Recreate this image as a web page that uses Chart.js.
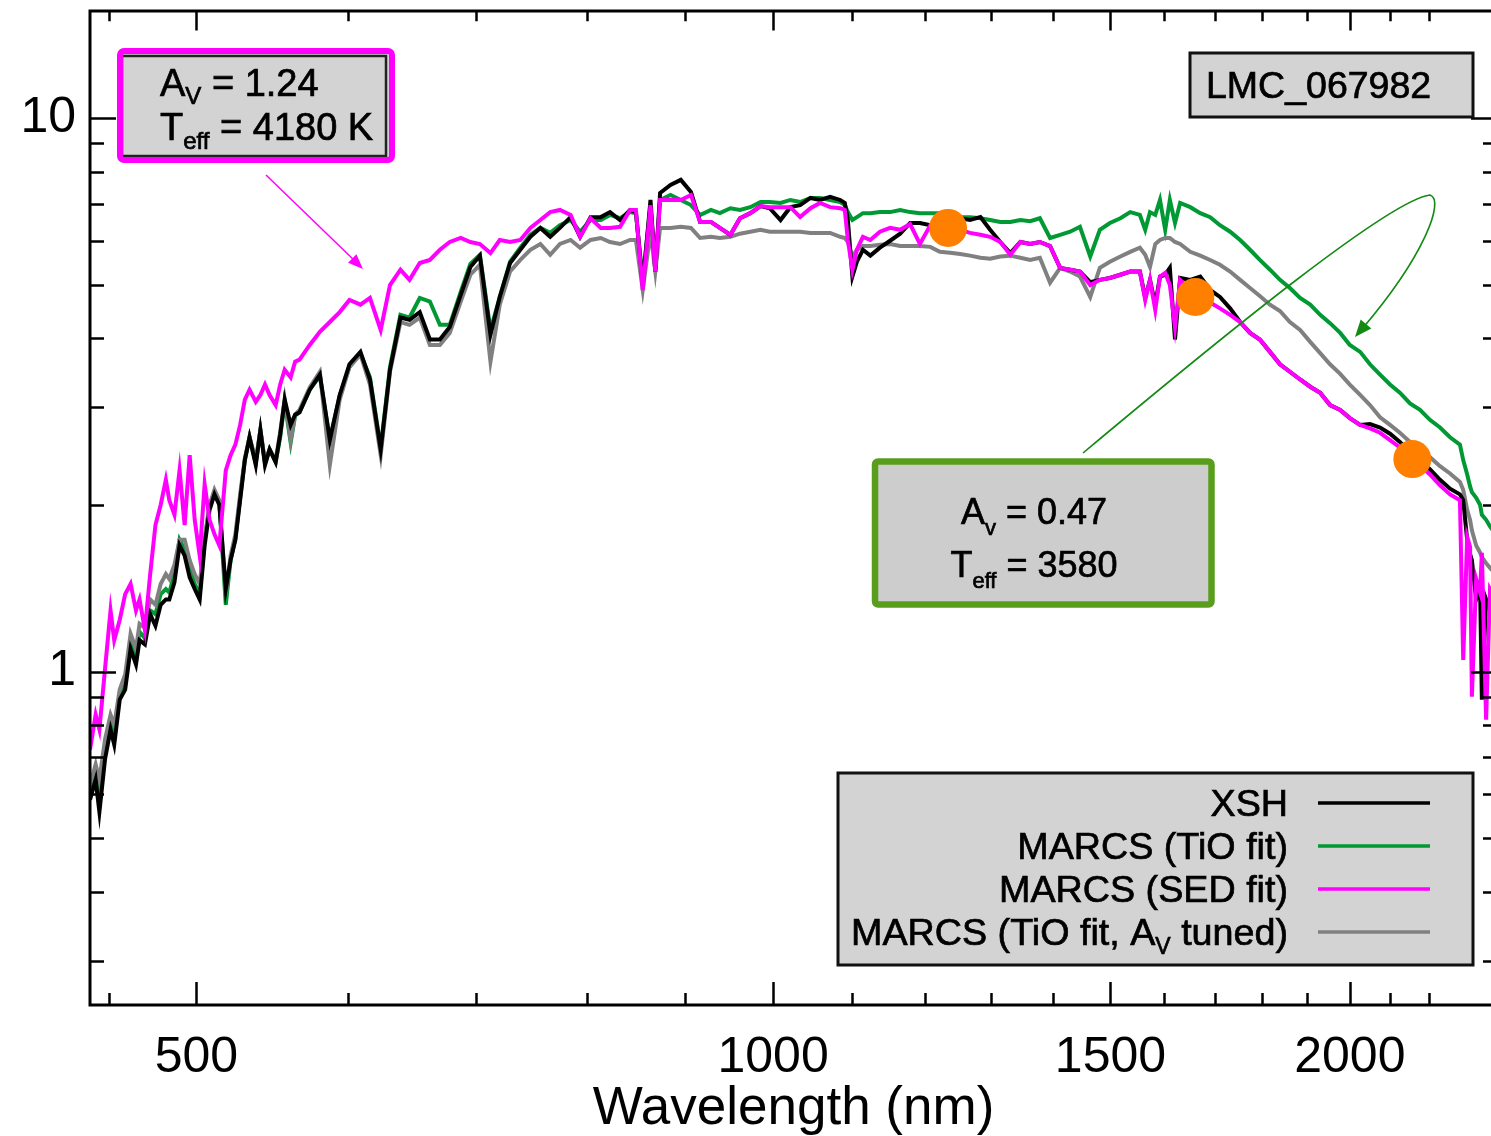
<!DOCTYPE html>
<html>
<head>
<meta charset="utf-8">
<script src="https://cdn.jsdelivr.net/npm/chart.js@4.4.0/dist/chart.umd.min.js"></script>
<style>
  html, body { margin: 0; padding: 0; background: #fff; overflow: hidden; }
  #wrap { width: 1491px; height: 1136px; overflow: hidden; }
</style>
</head>
<body>
<div id="wrap"><canvas id="spectrum" width="1500" height="1136"></canvas></div>
<script>
// wavelength grid (nm), shared by the four spectra
const wavelength = [
  440, 443, 445, 448, 451, 453, 456, 459, 462, 465, 467, 470, 473, 476, 479, 482, 484, 487, 490, 493, 496, 499,
  502, 505, 508, 511, 514, 518, 521, 524, 527, 530, 533, 537, 540, 543, 546, 550, 553, 556, 560, 563, 566,
  573, 580, 587, 594, 601, 609, 616, 624, 631, 639, 646, 654, 662, 670, 678, 687, 695, 703, 712, 720, 729,
  738, 747, 756, 765, 774, 784, 793, 803, 813, 822, 832, 842,
  848, 855, 863, 868, 873, 884,
  895, 906, 916, 928, 938, 950, 961, 973, 985, 996, 1009, 1021, 1033, 1046, 1058, 1071, 1084,
  1090, 1094, 1100, 1106, 1114, 1124,
  1137, 1151, 1165, 1179, 1193, 1208, 1222, 1237, 1252, 1267, 1283, 1298, 1314, 1330, 1346, 1362, 1378, 1395,
  1412, 1429, 1446, 1464, 1481, 1499, 1518, 1536, 1554,
  1564, 1573, 1583, 1592, 1602, 1611, 1621, 1631,
  1651, 1671, 1691, 1711, 1732, 1753, 1774, 1795, 1817, 1839, 1861, 1884, 1907, 1930, 1953, 1977, 2000, 2025,
  2049, 2074, 2099, 2124, 2150, 2176, 2202, 2229, 2256, 2283,
  2292, 2303, 2311, 2316, 2328, 2339, 2344, 2356, 2367, 2384
];

const xsh = [
  0.587, 0.638, 0.558, 0.694, 0.786, 0.738, 0.890, 0.928, 1.10, 1.03, 1.14, 1.12, 1.27, 1.21, 1.32, 1.35, 1.35, 1.45, 1.69, 1.62, 1.48, 1.41,
  1.35, 1.69, 1.96, 2.09, 2.00, 1.41, 1.59, 1.73, 2.04, 2.41, 2.65, 2.36, 2.73, 2.36, 2.52, 2.39, 2.68, 3.10, 2.79, 2.91, 2.94,
  3.23, 3.44, 2.62, 3.16, 3.59, 3.78, 3.37, 2.52, 3.51, 4.36, 4.32, 4.46, 3.98, 3.98, 4.19, 4.79, 5.38, 5.64, 4.06, 4.75, 5.47, 5.78,
  6.10, 6.33, 6.10, 6.33, 6.62, 6.10, 6.62, 6.62, 6.76, 6.54, 6.82,
  6.76, 4.99, 7.11, 5.28, 7.32, 7.57,
  7.73, 7.35, 6.49, 6.49, 6.33, 6.15, 6.59, 6.73, 6.93, 6.87, 6.54, 6.90, 6.96, 7.17, 7.11, 7.20, 7.11,
  7.02, 6.54, 5.17, 5.50, 5.78, 5.64,
  5.83, 6.00, 6.18, 6.46, 6.46, 6.40, 6.49, 6.49, 6.59, 6.54, 6.62, 6.28, 5.97, 5.70, 5.97, 5.92, 5.97, 5.87,
  5.36, 5.32, 5.28, 5.05, 5.10, 5.14, 5.21, 5.28, 5.28,
  4.73, 5.10, 4.60, 5.17, 5.21, 5.36, 3.98, 5.14,
  5.10, 5.17, 4.89, 4.75, 4.53, 4.28, 4.09, 3.98, 3.78, 3.59, 3.48, 3.37, 3.27, 3.19, 3.03, 2.97, 2.87, 2.79,
  2.80, 2.76, 2.69, 2.60, 2.49, 2.41, 2.32, 2.22, 2.14, 2.09,
  2.04, 1.73, 1.63, 1.59, 1.35, 1.41, 0.890, 1.35, 1.29, 1.24
];

const tioFit = [
  0.612, 0.652, 0.587, 0.708, 0.812, 0.770, 0.909, 0.955, 1.12, 1.06, 1.18, 1.15, 1.29, 1.27, 1.38, 1.41, 1.39, 1.50, 1.73, 1.66, 1.53, 1.44,
  1.38, 1.73, 2.00, 2.11, 2.02, 1.32, 1.59, 1.74, 2.06, 2.41, 2.65, 2.38, 2.73, 2.38, 2.52, 2.39, 2.65, 3.07, 2.59, 2.90, 2.94,
  3.23, 3.42, 2.62, 3.15, 3.55, 3.75, 3.40, 2.54, 3.55, 4.41, 4.36, 4.73, 4.66, 4.23, 4.23, 4.85, 5.45, 5.66, 4.14, 4.75, 5.50, 5.83,
  6.15, 6.33, 6.20, 6.40, 6.54, 6.23, 6.54, 6.54, 6.68, 6.59, 6.76,
  6.73, 5.10, 6.96, 5.36, 7.11, 7.26,
  7.11, 6.96, 6.68, 6.82, 6.73, 6.87, 6.82, 6.90, 7.05, 7.05, 7.02, 7.11, 7.05, 7.17, 7.17, 7.11, 7.05,
  6.96, 6.76, 6.54, 6.62, 6.73, 6.73,
  6.76, 6.76, 6.82, 6.76, 6.73, 6.73, 6.73, 6.68, 6.62, 6.62, 6.59, 6.54, 6.49, 6.49, 6.54, 6.51, 6.59, 6.07,
  6.15, 6.23, 6.36, 5.62, 6.28, 6.46, 6.59, 6.76, 6.68,
  6.28, 6.76, 6.68, 7.11, 6.28, 7.11, 6.46, 7.02,
  6.90, 6.73, 6.62, 6.40, 6.23, 6.02, 5.78, 5.54, 5.32, 5.10, 4.93, 4.73, 4.60, 4.41, 4.26, 4.09, 3.89, 3.78,
  3.59, 3.44, 3.30, 3.19, 3.05, 2.97, 2.85, 2.76, 2.65, 2.57,
  2.41, 2.27, 2.16, 2.11, 2.06, 2.00, 1.92, 1.88, 1.83, 1.77
];

const sedFit = [
  0.723, 0.836, 0.786, 1.01, 1.29, 1.14, 1.24, 1.38, 1.44, 1.29, 1.35, 1.19, 1.50, 1.84, 2.00, 2.22, 2.04, 1.92, 2.31, 1.84, 2.46, 1.88,
  1.62, 2.18, 1.88, 1.77, 1.69, 2.31, 2.46, 2.57, 2.79, 3.10, 3.23, 3.07, 3.16, 3.30, 3.16, 3.03, 3.30, 3.51, 3.40, 3.63, 3.66,
  3.89, 4.11, 4.28, 4.46, 4.69, 4.60, 4.73, 4.14, 4.99, 5.32, 5.10, 5.47, 5.54, 5.78, 5.97, 6.07, 5.97, 5.92, 5.70, 6.02, 5.97, 6.02,
  6.33, 6.54, 6.76, 6.82, 6.68, 6.10, 6.59, 6.33, 6.33, 6.36, 6.82,
  6.82, 4.89, 6.96, 5.28, 7.11, 7.11,
  7.11, 7.26, 6.49, 6.49, 6.33, 6.15, 6.59, 6.73, 6.93, 6.90, 6.90, 6.90, 6.62, 6.87, 7.02, 6.90, 6.87,
  6.82, 6.02, 5.32, 5.78, 6.10, 6.02,
  6.23, 6.33, 6.28, 6.43, 5.92, 6.40, 6.33, 6.28, 6.28, 6.20, 6.15, 6.10, 5.97, 5.66, 5.97, 5.92, 5.97, 5.87,
  5.36, 5.32, 5.28, 4.99, 5.10, 5.14, 5.21, 5.28, 5.28,
  4.69, 5.10, 4.50, 5.17, 5.25, 4.99, 4.19, 5.10,
  4.89, 4.73, 4.64, 4.53, 4.41, 4.28, 4.09, 3.98, 3.78, 3.59, 3.48, 3.37, 3.27, 3.19, 3.03, 2.97, 2.87, 2.79,
  2.75, 2.70, 2.62, 2.54, 2.44, 2.36, 2.27, 2.17, 2.09, 2.04,
  1.05, 1.75, 1.68, 0.901, 1.47, 1.39, 1.64, 0.819, 1.41, 1.35
];

const tioTuned = [
  0.625, 0.680, 0.638, 0.754, 0.836, 0.802, 0.928, 0.988, 1.17, 1.10, 1.22, 1.20, 1.35, 1.32, 1.44, 1.50, 1.47, 1.56, 1.73, 1.73, 1.59, 1.50,
  1.44, 1.73, 2.00, 2.13, 2.04, 1.38, 1.62, 1.77, 2.09, 2.43, 2.65, 2.41, 2.73, 2.39, 2.52, 2.41, 2.71, 3.10, 2.62, 2.91, 2.97,
  3.26, 3.48, 2.36, 3.10, 3.55, 3.74, 3.30, 2.46, 3.48, 4.28, 4.23, 4.36, 3.89, 3.89, 4.09, 4.66, 5.21, 5.43, 3.63, 4.60, 5.28, 5.54,
  5.78, 5.92, 5.66, 5.92, 6.02, 5.83, 6.02, 6.07, 5.97, 5.92, 6.02,
  6.02, 4.89, 6.23, 5.28, 6.33, 6.33,
  6.36, 6.33, 6.07, 6.10, 6.07, 6.10, 6.18, 6.23, 6.28, 6.23, 6.23, 6.23, 6.23, 6.20, 6.20, 6.20, 6.10,
  6.07, 5.97, 5.62, 5.78, 5.87, 5.87,
  5.90, 5.92, 5.87, 5.87, 5.87, 5.85, 5.73, 5.71, 5.68, 5.64, 5.59, 5.57, 5.62, 5.64, 5.59, 5.54, 5.59, 5.04,
  5.36, 5.28, 5.17, 4.75, 5.36, 5.50, 5.62, 5.73, 5.83,
  5.66, 5.38, 5.92, 6.02, 6.07, 6.07, 5.97, 5.92,
  5.73, 5.64, 5.54, 5.43, 5.28, 5.10, 4.93, 4.77, 4.60, 4.48, 4.28, 4.14, 3.94, 3.76, 3.59, 3.45, 3.30, 3.16,
  3.03, 2.88, 2.79, 2.70, 2.60, 2.52, 2.44, 2.35, 2.28, 2.20,
  2.13, 1.96, 1.88, 1.80, 1.69, 1.64, 1.61, 1.57, 1.54, 1.50
];

// J, H, K photometry (orange dots)
const photWave = [1234, 1661, 2156];
const photFlux = [6.33, 4.75, 2.42];

const seriesNames = ['XSH', 'MARCS (TiO fit)', 'MARCS (SED fit)', 'MARCS (TiO fit, A_{V} tuned)'];
const seriesColors = ['#000000', '#009933', '#ff00ff', '#808080'];

const xTicks = [450, 500, 600, 700, 800, 900, 1000, 1100, 1200, 1300, 1400, 1500, 1600, 1700, 1800, 1900, 2000, 2100, 2200];
const xLabels = [500, 1000, 1500, 2000];
const yTicks = [0.3, 0.4, 0.5, 0.6, 0.7, 0.8, 0.9, 1, 2, 3, 4, 5, 6, 7, 8, 9, 10];
const yLabels = [1, 10];

const FAMILY = '"Liberation Sans", Arial, Helvetica, sans-serif';
function fontAt(size) { return size + 'px ' + FAMILY; }

function toPoints(ys) {
    return wavelength.map((w, i) => ({ x: w, y: ys[i] }));
}

// "A_{V}" style markup -> [[text, isSub], ...]
function richParts(str) {
    const parts = [];
    const re = /_\{([^}]*)\}/g;
    let last = 0, m;
    while ((m = re.exec(str)) !== null) {
        if (m.index > last) parts.push([str.slice(last, m.index), false]);
        parts.push([m[1], true]);
        last = re.lastIndex;
    }
    if (last < str.length) parts.push([str.slice(last), false]);
    return parts;
}

function drawRich(ctx, str, x, y, align, size, subDrop) {
    const parts = richParts(str);
    const subSize = Math.round(size * 0.62);
    const widthOf = p => { ctx.font = fontAt(p[1] ? subSize : size); return ctx.measureText(p[0]).width; };
    const total = parts.reduce((s, p) => s + widthOf(p), 0);
    let cx = align === 'right' ? x - total : align === 'center' ? x - total / 2 : x;
    ctx.textAlign = 'left';
    ctx.textBaseline = 'alphabetic';
    ctx.lineWidth = 0.7;
    ctx.strokeStyle = ctx.fillStyle;
    parts.forEach(p => {
        const w = widthOf(p);
        const ty = p[1] ? y + subDrop : y;
        ctx.fillText(p[0], cx, ty);
        ctx.strokeText(p[0], cx, ty);
        cx += w;
    });
}

function arrowHead(ctx, x, y, angle, len, half) {
    const c = Math.cos(angle), s = Math.sin(angle);
    ctx.beginPath();
    ctx.moveTo(x, y);
    ctx.lineTo(x - len * c + half * s, y - len * s - half * c);
    ctx.lineTo(x - len * c - half * s, y - len * s + half * c);
    ctx.closePath();
    ctx.fill();
}

const frameTicks = {
    id: 'frameTicks',
    afterDatasetsDraw(chart) {
        const { ctx, chartArea: a, scales: { x, y } } = chart;
        ctx.save();
        ctx.strokeStyle = '#000';
        ctx.lineWidth = 2.5;
        ctx.beginPath();
        xTicks.forEach(v => {
            const px = Math.round(x.getPixelForValue(v)) + 0.5;
            const len = xLabels.includes(v) ? 23 : 12;
            ctx.moveTo(px, a.bottom); ctx.lineTo(px, a.bottom - len);
            ctx.moveTo(px, a.top); ctx.lineTo(px, a.top + len * 0.85);
        });
        yTicks.forEach(v => {
            const py = Math.round(y.getPixelForValue(v)) + 0.5;
            const len = yLabels.includes(v) ? 26 : 14;
            ctx.moveTo(a.left, py); ctx.lineTo(a.left + len, py);
            ctx.moveTo(a.right, py); ctx.lineTo(a.right - len, py);
        });
        ctx.stroke();
        ctx.lineWidth = 3;
        ctx.strokeRect(a.left, a.top, a.right - a.left, a.bottom - a.top);
        ctx.restore();
    }
};

const notes = {
    id: 'notes',
    afterDraw(chart) {
        const ctx = chart.ctx;
        ctx.save();

        // legend
        ctx.fillStyle = '#d3d3d3';
        ctx.fillRect(838, 773, 635, 192);
        ctx.strokeStyle = '#111';
        ctx.lineWidth = 3;
        ctx.strokeRect(838, 773, 635, 192);
        seriesNames.forEach((name, i) => {
            const yMid = 803 + i * 43;
            ctx.fillStyle = '#000';
            drawRich(ctx, name, 1288, yMid + 13, 'right', 37.7, 9);
            ctx.strokeStyle = seriesColors[i];
            ctx.lineWidth = 3.5;
            ctx.beginPath();
            ctx.moveTo(1318, yMid); ctx.lineTo(1430, yMid);
            ctx.stroke();
        });

        // star name
        ctx.fillStyle = '#d3d3d3';
        ctx.fillRect(1190, 53, 283, 64);
        ctx.strokeStyle = '#111';
        ctx.lineWidth = 3;
        ctx.strokeRect(1190, 53, 283, 64);
        ctx.fillStyle = '#000';
        drawRich(ctx, 'LMC_067982', 1206, 98, 'left', 37.5, 0);

        // SED-fit box (magenta)
        ctx.fillStyle = '#d3d3d3';
        ctx.fillRect(120, 52, 270, 106);
        ctx.strokeStyle = '#222';
        ctx.lineWidth = 2.5;
        ctx.strokeRect(122, 56, 264, 100);
        ctx.strokeStyle = '#ff00ff';
        ctx.lineWidth = 6;
        ctx.beginPath();
        ctx.roundRect(120, 51, 272, 109, 4);
        ctx.stroke();
        ctx.fillStyle = '#000';
        drawRich(ctx, 'A_{V} = 1.24', 160, 96, 'left', 38, 8);
        drawRich(ctx, 'T_{eff} = 4180 K', 160, 140, 'left', 38, 9);

        ctx.strokeStyle = '#ff00ff';
        ctx.fillStyle = '#ff00ff';
        ctx.lineWidth = 1.5;
        ctx.beginPath();
        ctx.moveTo(266, 175); ctx.lineTo(356, 262);
        ctx.stroke();
        arrowHead(ctx, 363, 269, Math.atan2(94, 97), 15, 6);

        // TiO-fit box (green)
        ctx.fillStyle = '#cdcdcd';
        ctx.fillRect(875, 461, 337, 144);
        ctx.strokeStyle = '#589e1c';
        ctx.lineWidth = 6.5;
        ctx.beginPath();
        ctx.roundRect(875, 461.5, 336.5, 143, 3);
        ctx.stroke();
        ctx.fillStyle = '#000';
        drawRich(ctx, 'A_{v} = 0.47', 1034, 524, 'center', 36, 11);
        drawRich(ctx, 'T_{eff} = 3580', 1034, 577, 'center', 36, 11);

        ctx.strokeStyle = '#138a13';
        ctx.fillStyle = '#138a13';
        ctx.lineWidth = 1.6;
        ctx.beginPath();
        ctx.moveTo(1083, 453);
        ctx.bezierCurveTo(1230, 330, 1390, 200, 1430, 195);
        ctx.bezierCurveTo(1445, 200, 1425, 255, 1362, 329);
        ctx.stroke();
        arrowHead(ctx, 1355, 337, Math.atan2(74, -63), 17, 7);

        ctx.restore();
    }
};

Chart.defaults.font.family = FAMILY;

const lineSet = (i, ys, order) => ({
    label: seriesNames[i].replace(/_\{([^}]*)\}/g, '$1'),
    data: toPoints(ys),
    showLine: true,
    borderColor: seriesColors[i],
    backgroundColor: seriesColors[i],
    borderWidth: 4,
    pointRadius: 0,
    pointHoverRadius: 0,
    tension: 0,
    order: order
});

new Chart(document.getElementById('spectrum'), {
    type: 'scatter',
    data: {
        datasets: [
            {
                label: 'Photometry',
                data: photWave.map((w, i) => ({ x: w, y: photFlux[i] })),
                pointRadius: 19,
                pointHoverRadius: 19,
                pointBackgroundColor: '#ff8000',
                pointBorderWidth: 0,
                order: 0
            },
            lineSet(2, sedFit, 1),
            lineSet(0, xsh, 2),
            lineSet(3, tioTuned, 3),
            lineSet(1, tioFit, 4)
        ]
    },
    options: {
        responsive: false,
        animation: false,
        devicePixelRatio: 1,
        events: [],
        layout: { autoPadding: false, padding: { top: 11, right: 3, left: 0, bottom: 0 } },
        plugins: {
            legend: { display: false },
            tooltip: { enabled: false }
        },
        scales: {
            x: {
                type: 'logarithmic',
                position: 'bottom',
                min: 440,
                max: 2387,
                grid: { display: false, drawTicks: false },
                border: { display: false },
                afterBuildTicks: s => { s.ticks = xTicks.map(v => ({ value: v })); },
                afterFit: s => { s.height = 131; s.paddingLeft = 0; s.paddingRight = 0; },
                ticks: {
                    autoSkip: false,
                    maxRotation: 0,
                    padding: 23,
                    color: '#000',
                    font: { size: 50 },
                    callback: v => xLabels.includes(v) ? String(v) : ''
                },
                title: {
                    display: true,
                    text: 'Wavelength (nm)',
                    color: '#000',
                    font: { size: 53, lineHeight: 0.9 },
                    padding: { top: 0, bottom: 3 }
                }
            },
            y: {
                type: 'logarithmic',
                min: 0.25,
                max: 15.6,
                grid: { display: false, drawTicks: false },
                border: { display: false },
                afterBuildTicks: s => { s.ticks = yTicks.map(v => ({ value: v })); },
                afterFit: s => { s.width = 90; s.paddingTop = 0; s.paddingBottom = 0; },
                ticks: {
                    autoSkip: false,
                    padding: 14,
                    color: '#000',
                    font: { size: 50 },
                    callback: v => yLabels.includes(v) ? String(v) : ''
                }
            }
        }
    },
    plugins: [frameTicks, notes]
});
</script>
</body>
</html>
